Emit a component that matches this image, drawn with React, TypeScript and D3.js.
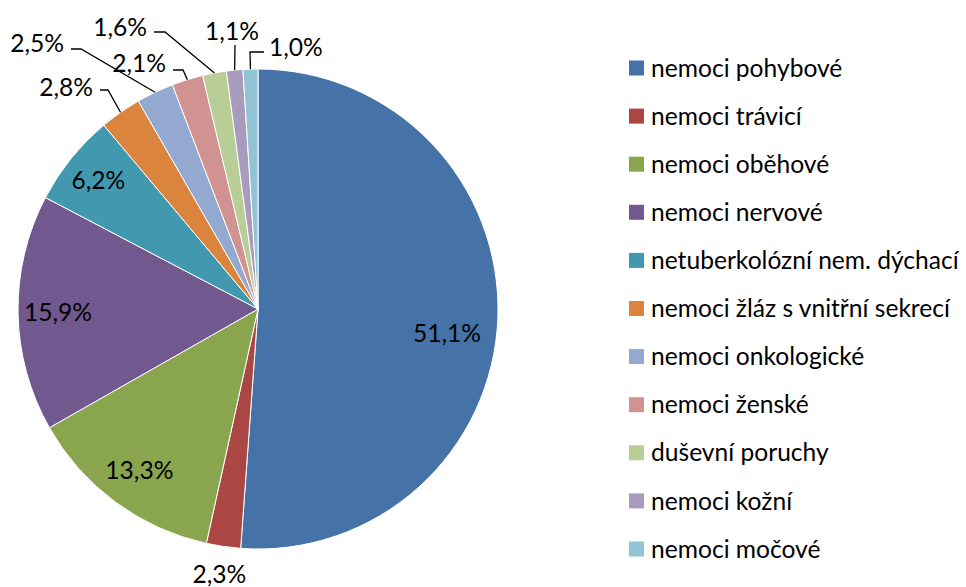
import React from "react";
import * as d3 from "d3";

const categories = [
  "nemoci pohybové",
  "nemoci trávicí",
  "nemoci oběhové",
  "nemoci nervové",
  "netuberkolózní nem. dýchací",
  "nemoci žláz s vnitřní sekrecí",
  "nemoci onkologické",
  "nemoci ženské",
  "duševní poruchy",
  "nemoci kožní",
  "nemoci močové",
];
const values = [51.1, 2.3, 13.3, 15.9, 6.2, 2.8, 2.5, 2.1, 1.6, 1.1, 1.0];
const colors = [
  "#4572A7", "#AA4643", "#89A54E", "#71588F", "#4198AF", "#DB843D",
  "#93A9CF", "#D19392", "#B9CD96", "#A99BBD", "#92C3D4",
];

// label layout (positions only, not data)
type LabelLayout =
  | { kind: "inside"; r?: number; x?: number; y?: number }
  | { kind: "leader"; elbow: [number, number]; end: [number, number]; tx: number; ty: number; anchor: string };

const labelLayout: LabelLayout[] = [
  { kind: "inside", x: 447, y: 333 },
  { kind: "inside", r: 268 },
  { kind: "inside", r: 200 },
  { kind: "inside", r: 200 },
  { kind: "inside", r: 205 },
  { kind: "leader", elbow: [108, 90], end: [100, 90], tx: 93, ty: 87, anchor: "end" },
  { kind: "leader", elbow: [81, 49], end: [71, 49], tx: 64, ty: 43, anchor: "end" },
  { kind: "leader", elbow: [183, 70], end: [173, 70], tx: 166, ty: 63, anchor: "end" },
  { kind: "leader", elbow: [165, 32], end: [154, 32], tx: 147, ty: 27, anchor: "end" },
  { kind: "leader", elbow: [235, 45], end: [235, 45], tx: 232, ty: 31, anchor: "middle" },
  { kind: "leader", elbow: [250, 52], end: [264, 52], tx: 269, ty: 47, anchor: "start" },
];

const W = 966, H = 587;
const CX = 258, CY = 309, R = 240;
const FONT = "Lato, 'Open Sans', sans-serif";
const FS = 24.6;

export default function App() {
  const pie = d3.pie<number>().sort(null).value((d) => d)(values);
  const arc = d3.arc<d3.PieArcDatum<number>>().innerRadius(0).outerRadius(R);
  const fmt = (v: number) => v.toFixed(1).replace(".", ",") + "%";
  const pt = (a: number, r: number): [number, number] => [CX + r * Math.sin(a), CY - r * Math.cos(a)];

  return (
    <svg width={W} height={H} style={{ position: "absolute", left: 0, top: 0, background: "#fff" }}>
      <g transform={`translate(${CX},${CY})`}>
        {pie.map((p, i) => (
          <path key={i} d={arc(p) || ""} fill={colors[i]} stroke="#fff" strokeWidth={1} />
        ))}
      </g>
      {pie.map((p, i) => {
        const L = labelLayout[i];
        const mid = (p.startAngle + p.endAngle) / 2;
        if (L.kind === "inside") {
          const [x, y] = L.x !== undefined ? [L.x, L.y as number] : pt(mid, L.r as number);
          return (
            <text key={i} x={x} y={y} dy="0.35em" textAnchor="middle" fontFamily={FONT} fontSize={FS} fill="#000">
              {fmt(values[i])}
            </text>
          );
        }
        const s = pt(mid, R);
        return (
          <g key={i}>
            <polyline
              points={`${s[0]},${s[1]} ${L.elbow[0]},${L.elbow[1]} ${L.end[0]},${L.end[1]}`}
              fill="none"
              stroke="#000"
              strokeWidth={1.3}
            />
            <text x={L.tx} y={L.ty} dy="0.35em" textAnchor={L.anchor as any} fontFamily={FONT} fontSize={FS} fill="#000">
              {fmt(values[i])}
            </text>
          </g>
        );
      })}
      <g>
        {categories.map((c, i) => {
          const y = 68 + i * 48.1;
          return (
            <g key={c}>
              <rect x={629} y={y - 7.5} width={15} height={15} fill={colors[i]} />
              <text x={651} y={y} dy="0.35em" fontFamily={FONT} fontSize={FS} fill="#000">
                {c}
              </text>
            </g>
          );
        })}
      </g>
    </svg>
  );
}
